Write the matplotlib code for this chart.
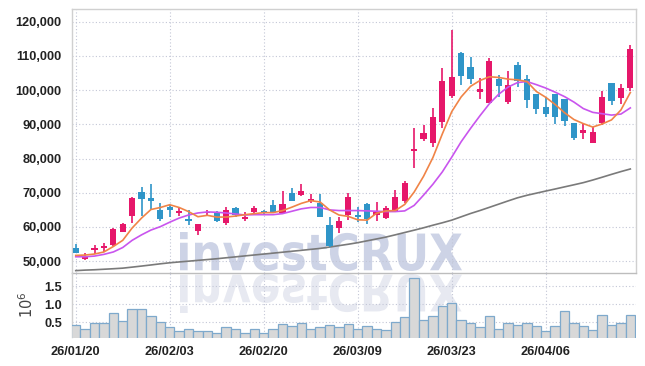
import numpy as np
import matplotlib.pyplot as plt
from matplotlib.textpath import TextPath
from matplotlib.patches import PathPatch
from matplotlib.font_manager import FontProperties
from matplotlib.transforms import Affine2D, IdentityTransform

# daily candles (price in won)
opens = [54000, 50500, 53400, 53900, 54800, 58600, 63300, 70100, 68400, 65000,
         65700, 64000, 62000, 58900, 64000, 64500, 61100, 65500, 62300, 64400,
         64700, 66400, 64200, 70000, 69400, 67500, 66900, 60600, 59600, 63400,
         63400, 66700, 63600, 62500, 64800, 67700, 82200, 85600, 84500, 90800,
         98400, 110800, 106700, 99500, 96300, 103100, 96600, 107300, 103100, 98900,
         95100, 98900, 97400, 90400, 87500, 84600, 90500, 102100, 97800, 100600]
highs = [54900, 52500, 54800, 55400, 59800, 61300, 68800, 71700, 72700, 66900,
         66400, 65900, 65100, 60900, 64900, 64700, 65900, 65700, 64300, 66100,
         65100, 67900, 70500, 71300, 72700, 69600, 69600, 63000, 63000, 70000,
         65900, 66900, 67400, 66000, 70700, 73500, 88800, 89800, 94700, 106500,
         117700, 111000, 109600, 103400, 109500, 104400, 105700, 108100, 104400, 98900,
         97900, 98900, 97400, 90400, 90300, 89300, 99600, 102100, 101700, 113200]
lows = [52300, 50400, 52200, 52700, 54500, 58400, 61100, 63200, 65000, 61800,
        62800, 63300, 60600, 57800, 63200, 61500, 60500, 62800, 61800, 64000,
        63500, 64000, 63700, 67500, 69200, 67100, 62800, 54100, 58200, 62000,
        61600, 60900, 61700, 62400, 64400, 67100, 77100, 85000, 83500, 88800,
        97600, 101500, 101700, 97300, 96100, 97900, 95800, 100800, 94700, 92900,
        92000, 90100, 89600, 85300, 85700, 84600, 89700, 95700, 95800, 99700]
closes = [52500, 51600, 54000, 54200, 59400, 60900, 68600, 68300, 67600, 62300,
          65000, 64700, 61800, 60900, 64500, 61700, 65100, 63400, 63000, 65500,
          64300, 64500, 66700, 67700, 70500, 68200, 63000, 54300, 61700, 68700,
          62800, 62200, 64400, 65500, 68700, 72800, 82600, 87400, 92100, 102600,
          103700, 104200, 103200, 100300, 108500, 101300, 101500, 102700, 97200, 94600,
          93100, 92200, 91100, 86000, 88300, 87800, 98000, 96900, 100600, 112000]

# moving averages as drawn (orange / purple / grey)
ma5 = [51700, 51800, 52100, 52700, 54300, 56100, 59700, 62600, 65100, 65700,
       66500, 65700, 64500, 63000, 63400, 62900, 62900, 63200, 63600, 63900,
       64200, 64200, 64800, 65800, 66900, 67700, 67300, 65000, 63500, 63100,
       62100, 62000, 64000, 64700, 64800, 66600, 70200, 74800, 80300, 87200,
       93700, 98000, 101100, 102800, 103900, 103700, 103200, 103000, 102500, 99600,
       97900, 95800, 93400, 91400, 90200, 89200, 90100, 91300, 94200, 99300]
ma10 = [51300, 51300, 51500, 52000, 52700, 54000, 56100, 57700, 59100, 60100,
        61400, 62600, 63500, 64100, 64400, 64300, 64100, 63800, 63500, 63600,
        63600, 63600, 63900, 64600, 65300, 65700, 65700, 65000, 64800, 64800,
        64800, 64700, 64600, 64500, 64500, 64700, 66300, 69300, 72500, 76100,
        80400, 84900, 88800, 92500, 96000, 98800, 100900, 102200, 102500, 101600,
        100600, 99400, 98100, 96500, 94600, 93500, 93100, 92700, 93000, 94800]
ma60 = [47250, 47400, 47500, 47650, 47800, 47970, 48270, 48580, 48900, 49240,
        49540, 49780, 50010, 50250, 50480, 50720, 51000, 51270, 51550, 51820,
        52090, 52360, 52630, 52910, 53180, 53460, 53740, 54130, 54550, 54960,
        55420, 55960, 56500, 57050, 57710, 58390, 59070, 59760, 60520, 61230,
        62000, 62970, 63940, 64810, 65740, 66680, 67620, 68530, 69260, 69880,
        70500, 71100, 71720, 72330, 72960, 73720, 74540, 75380, 76190, 76950]

# volume in millions of shares
volume = [0.41, 0.30, 0.46, 0.46, 0.74, 0.52, 0.85, 0.85, 0.66, 0.49,
          0.35, 0.24, 0.30, 0.24, 0.24, 0.19, 0.35, 0.30, 0.19, 0.30,
          0.19, 0.30, 0.44, 0.38, 0.46, 0.30, 0.35, 0.41, 0.35, 0.44,
          0.32, 0.38, 0.30, 0.27, 0.49, 0.63, 1.72, 0.57, 0.66, 0.96,
          1.02, 0.55, 0.46, 0.35, 0.66, 0.32, 0.46, 0.41, 0.46, 0.38,
          0.24, 0.38, 0.80, 0.46, 0.38, 0.27, 0.69, 0.41, 0.46, 0.69]

date_ticks = [0, 10, 20, 30, 40, 50]
date_labels = ['26/01/20', '26/02/03', '26/02/20', '26/03/09', '26/03/23', '26/04/06']
price_ticks = [50000, 60000, 70000, 80000, 90000, 100000, 110000, 120000]
vol_ticks = [0.5, 1.0, 1.5]

RED = '#e6176a'
BLUE = '#2f95c8'
GRID = '#c3c6d6'
TXT = '#222222'
FS = 9.2

plt.rcParams['font.family'] = ['Liberation Sans', 'DejaVu Sans']

W, H = 645, 366
fig = plt.figure(figsize=(W / 100, H / 100), dpi=100)
fig.patch.set_facecolor('white')

left, right = 71.5 / W, 635.5 / W
ax = fig.add_axes([left, 1 - 272.5 / H, right - left, (272.5 - 9) / H])
axv = fig.add_axes([left, 1 - 337.5 / H, right - left, (337.5 - 272.5) / H], sharex=ax)
for a in (ax, axv):
    a.set_facecolor('none')

x = np.arange(len(closes))
o = np.array(opens)
c = np.array(closes)
up = c >= o
cols = np.where(up, RED, BLUE)

# watermark + reflection, drawn behind the axes
fp = FontProperties(family='DejaVu Sans', weight='bold')
tp = TextPath((0, 0), 'investCRUX', size=50, prop=fp)
ext = tp.get_extents()
sx = 282 / ext.width
sy = 39 / ext.height
x0, base = 180, H - 271
up_tr = Affine2D().translate(-ext.x0, -ext.y0).scale(sx, sy).translate(x0, base)
fig.add_artist(PathPatch(up_tr.transform_path(tp), transform=IdentityTransform(),
                         facecolor='#cdd3e6', edgecolor='none', zorder=-2))
dn_tr = Affine2D().translate(-ext.x0, -ext.y0).scale(sx, -sy).translate(x0, base - 3)
fig.add_artist(PathPatch(dn_tr.transform_path(tp), transform=IdentityTransform(),
                         facecolor='#e7e9f1', edgecolor='none', zorder=-2))

# candles
ax.vlines(x, lows, highs, colors=cols, lw=1.2, zorder=3)
body = np.maximum(np.abs(c - o), 450)
ax.bar(x, body, bottom=np.minimum(o, c), width=0.66, color=cols, zorder=4)

ax.plot(x, ma60, color='#7a7a7a', lw=1.2, zorder=2)
ax.plot(x, ma10, color='#c955ee', lw=1.2, zorder=5)
ax.plot(x, ma5, color='#f08447', lw=1.2, zorder=5)

ax.set_ylim(46700, 123700)
ax.set_xlim(-0.45, 59.55)
ax.set_yticks(price_ticks)
ax.set_yticklabels([f'{p:,}' for p in price_ticks], fontweight='bold')
ax.set_xticks(date_ticks)
ax.tick_params(axis='x', labelbottom=False, length=0)
ax.tick_params(axis='y', length=0, pad=7, labelsize=FS, labelcolor=TXT)
ax.grid(True, color=GRID, ls=(0, (1, 2)), lw=0.8)
for s in ax.spines.values():
    s.set_color('#d0d0d0')
    s.set_linewidth(1.0)
ax.spines['bottom'].set_color('#bdbdbd')

# volume
axv.bar(x, volume, width=1.0, color='#d8d8d8', edgecolor='#7ea9cc', lw=0.9, zorder=3)
axv.set_ylim(0.07, 1.88)
axv.set_yticks(vol_ticks)
axv.set_yticklabels(['0.5', '1.0', '1.5'], fontweight='bold')
axv.set_xticks(date_ticks)
axv.set_xticklabels(date_labels, fontweight='bold')
axv.tick_params(axis='x', length=0, pad=6, labelsize=FS, labelcolor=TXT)
axv.tick_params(axis='y', length=0, pad=7, labelsize=FS, labelcolor=TXT)
axv.grid(True, color=GRID, ls=(0, (1, 2)), lw=0.8)
for s in axv.spines.values():
    s.set_color('#d0d0d0')
    s.set_linewidth(1.0)
axv.spines['top'].set_visible(False)
axv.spines['bottom'].set_visible(False)
axv.spines['right'].set_visible(False)
axv.set_ylabel(r'$10^6$', color='#444444', fontsize=10.5, labelpad=6)

fig.savefig('out.png', dpi=100)
